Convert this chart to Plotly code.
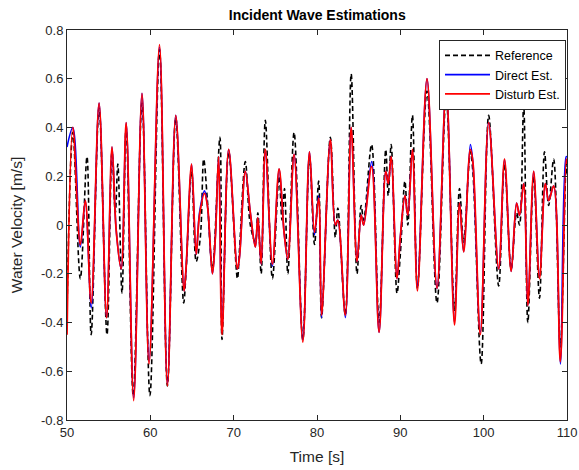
import plotly.graph_objects as go

# Disturb Est. (red) extrema
t_dist = [50.0, 50.7, 51.6, 52.2, 52.9, 53.85, 54.75, 55.4, 55.9, 56.5, 57.1, 58.0, 59.0, 59.85,
          61.1, 62.05, 63.05, 64.05, 64.3, 64.95, 65.5, 65.9, 66.5, 66.85, 67.45, 67.8, 68.2, 68.6,
          69.4, 70.45, 70.7, 71.4, 72.0, 72.6, 72.9, 73.3, 73.8, 74.65, 75.45, 76.05, 76.5, 77.25,
          78.3, 79.1, 79.7, 80.2, 80.55, 81.6, 82.2, 82.5, 83.4, 84.1, 84.8, 85.3, 85.6, 86.55,
          87.45, 88.25, 88.55, 88.9, 89.6, 90.0, 90.55, 90.9, 91.45, 92.05, 93.2, 94.4, 95.5, 96.5,
          97.1, 97.6, 98.4, 98.7, 99.6, 100.6, 101.8, 102.5, 103.3, 103.95, 104.3, 104.8, 105.3,
          106.0, 106.7, 107.4, 107.8, 108.4, 109.2, 109.9, 110.0]
v_dist = [-0.45, 0.40, -0.08, 0.10, -0.32, 0.50, -0.38, 0.32, -0.02, -0.18, 0.42, -0.72, 0.54, -0.57,
          0.74, -0.66, 0.45, -0.27, -0.17, 0.25, -0.12, 0.04, 0.13, 0.08, -0.20, -0.05, 0.28, -0.45,
          0.31, -0.18, -0.13, 0.22, 0.05, -0.09, 0.03, -0.16, 0.31, -0.16, 0.23, -0.03, -0.14, 0.29,
          -0.48, 0.30, -0.03, 0.11, -0.37, 0.35, 0.0, 0.02, -0.37, 0.40, -0.15, 0.04, 0.0, 0.24,
          -0.44, 0.22, 0.17, 0.28, -0.22, -0.05, 0.12, 0.04, 0.31, -0.27, 0.60, -0.26, 0.56, -0.41,
          0.09, -0.11, 0.31, 0.26, -0.45, 0.42, -0.18, 0.27, -0.19, 0.09, 0.04, 0.17, -0.33,
          0.22, -0.22, 0.17, 0.10, 0.16, -0.56, 0.27, 0.25]

# Direct Est. (blue) extrema
t_dir = [50.0, 50.7, 51.6, 52.2, 52.9, 53.85, 54.75, 55.4, 55.9, 56.5, 57.1, 58.0, 59.0, 59.85,
         61.1, 62.05, 63.05, 64.05, 64.3, 64.95, 65.5, 65.9, 66.5, 66.85, 67.45, 67.8, 68.2, 68.6,
         69.4, 70.45, 70.7, 71.4, 72.0, 72.6, 72.9, 73.3, 73.8, 74.65, 75.45, 76.05, 76.5, 77.25,
         78.3, 79.1, 79.7, 80.2, 80.55, 81.6, 82.2, 82.5, 83.4, 84.1, 84.8, 85.3, 85.6, 86.55,
         87.45, 88.25, 88.55, 88.9, 89.6, 90.0, 90.55, 90.9, 91.45, 92.05, 93.2, 94.4, 95.5, 96.5,
         97.1, 97.6, 98.4, 98.7, 99.6, 100.6, 101.8, 102.5, 103.3, 103.95, 104.3, 104.8, 105.3,
         106.0, 106.7, 107.4, 107.8, 108.4, 109.2, 109.9, 110.0]
v_dir = [0.32, 0.40, -0.09, 0.10, -0.34, 0.50, -0.38, 0.32, -0.02, -0.18, 0.42, -0.71, 0.54, -0.56,
         0.73, -0.65, 0.45, -0.27, -0.17, 0.25, -0.12, 0.05, 0.14, 0.08, -0.20, -0.05, 0.28, -0.44,
         0.31, -0.18, -0.13, 0.22, 0.05, -0.09, 0.03, -0.16, 0.30, -0.17, 0.23, -0.03, -0.14, 0.29,
         -0.47, 0.30, -0.04, 0.12, -0.38, 0.35, 0.0, 0.02, -0.38, 0.40, -0.15, 0.04, 0.0, 0.26,
         -0.44, 0.22, 0.17, 0.28, -0.22, -0.05, 0.12, 0.04, 0.31, -0.25, 0.60, -0.26, 0.57, -0.40,
         0.09, -0.11, 0.33, 0.26, -0.44, 0.42, -0.18, 0.27, -0.19, 0.09, 0.04, 0.17, -0.33,
         0.22, -0.21, 0.17, 0.10, 0.16, -0.57, 0.28, 0.28]

# Reference (black dashed) extrema
t_ref = [50.0, 50.7, 51.6, 52.4, 52.9, 53.85, 54.8, 55.4, 55.8, 56.1, 56.6, 57.1, 57.95, 59.0, 59.95,
         61.1, 62.05, 63.05, 64.0, 64.3, 64.95, 65.5, 66.0, 66.4, 66.85, 67.45, 68.35, 68.6, 69.4,
         70.45, 70.7, 71.4, 72.0, 72.6, 72.9, 73.3, 73.8, 74.65, 75.45, 75.8, 76.1, 76.5, 77.25,
         78.3, 79.1, 79.7, 80.2, 80.55, 81.6, 82.2, 82.5, 83.4, 84.1, 84.8, 85.3, 85.6, 86.55,
         87.45, 88.25, 88.55, 88.9, 89.6, 90.0, 90.55, 90.9, 91.45, 92.05, 93.2, 94.4, 95.5, 96.5,
         97.1, 97.6, 98.4, 98.7, 99.7, 100.6, 101.8, 102.5, 103.3, 103.95, 104.3, 104.8, 105.3,
         106.0, 106.7, 107.3, 107.8, 108.4, 109.2, 109.9, 110.0]
v_ref = [-0.35, 0.38, -0.22, 0.28, -0.45, 0.48, -0.45, 0.30, 0.05, 0.25, -0.28, 0.40, -0.70, 0.50, -0.70,
         0.72, -0.66, 0.44, -0.32, -0.18, 0.22, -0.15, -0.05, 0.27, 0.10, -0.18, 0.36, -0.47, 0.30,
         -0.22, -0.10, 0.26, 0.0, -0.07, 0.05, -0.20, 0.43, -0.22, 0.20, 0.02, 0.15, -0.20, 0.38,
         -0.47, 0.28, -0.08, 0.18, -0.38, 0.36, -0.05, 0.07, -0.37, 0.62, -0.20, 0.08, 0.02, 0.33,
         -0.40, 0.31, 0.12, 0.33, -0.28, -0.12, 0.18, 0.0, 0.45, -0.26, 0.55, -0.32, 0.52, -0.35,
         0.15, -0.07, 0.30, 0.22, -0.57, 0.45, -0.25, 0.25, -0.18, 0.05, 0.0, 0.49, -0.40,
         0.20, -0.30, 0.30, 0.08, 0.27, -0.50, 0.25, 0.20]

xticks = [50, 60, 70, 80, 90, 100, 110]
yticks = [-0.8, -0.6, -0.4, -0.2, 0, 0.2, 0.4, 0.6, 0.8]
yticklabels = ["-0.8", "-0.6", "-0.4", "-0.2", "0", "0.2", "0.4", "0.6", "0.8"]

fig = go.Figure()
fig.add_trace(go.Scatter(x=t_ref, y=v_ref, mode="lines", name="Reference",
                         line=dict(color="black", width=1.6, dash="5px,3px", shape="spline")))
fig.add_trace(go.Scatter(x=t_dir, y=v_dir, mode="lines", name="Direct Est.",
                         line=dict(color="#0000ff", width=1.6, shape="spline")))
fig.add_trace(go.Scatter(x=t_dist, y=v_dist, mode="lines", name="Disturb Est.",
                         line=dict(color="#ff0000", width=1.8, shape="spline")))

axis_common = dict(showgrid=False, zeroline=False, showline=True, linecolor="#262626",
                   linewidth=1, mirror="ticks", ticks="inside", ticklen=5, tickcolor="#262626",
                   automargin=False,
                   tickfont=dict(family="Liberation Sans, Arial", size=13, color="#262626"))

fig.update_layout(
    width=579, height=470,
    margin=dict(l=67, r=12, t=30, b=50),
    paper_bgcolor="white", plot_bgcolor="white",
    title=dict(text="<b>Incident Wave Estimations</b>", x=0.548, xanchor="center", y=0.967, yanchor="middle",
               font=dict(family="Liberation Sans, Arial", size=14, color="black")),
    xaxis=dict(range=[50, 110], tickvals=xticks,
               title=dict(text="Time [s]", standoff=12,
                          font=dict(family="Liberation Sans, Arial", size=15.5, color="#262626")),
               **axis_common),
    yaxis=dict(range=[-0.8, 0.8], tickvals=yticks, ticktext=yticklabels,
               title=dict(text="Water Velocity [m/s]", standoff=14,
                          font=dict(family="Liberation Sans, Arial", size=15.5, color="#262626")),
               **axis_common),
    legend=dict(x=0.998, y=0.975, xanchor="right", yanchor="top",
                bgcolor="white", bordercolor="#262626", borderwidth=1,
                font=dict(family="Liberation Sans, Arial", size=12.5, color="black"),
                tracegroupgap=0, itemwidth=45),
    showlegend=True,
)

fig.write_html("out.html")
